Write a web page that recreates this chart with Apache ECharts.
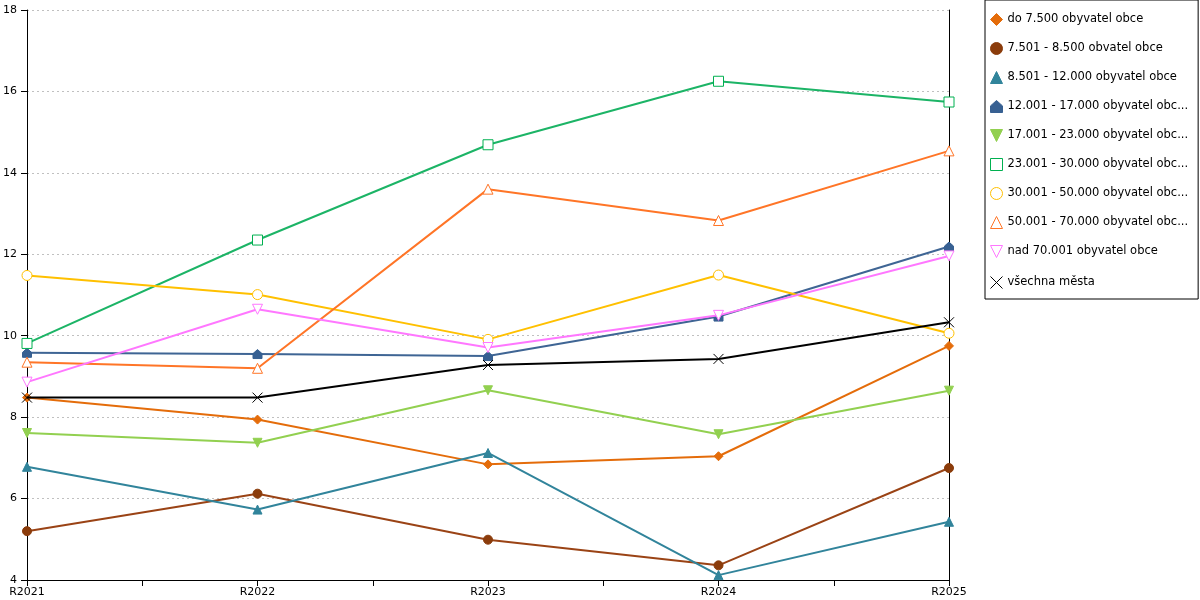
<!DOCTYPE html>
<html>
<head>
<meta charset="utf-8">
<script src="https://cdn.jsdelivr.net/npm/echarts@6/dist/echarts.min.js"></script>
<style>
  html, body { margin: 0; padding: 0; background: #fff; }
  #chart { width: 1200px; height: 600px; }
</style>
</head>
<body>
<div id="chart"></div>
<script>
// roky na ose X
const years = ['R2021', 'R2022', 'R2023', 'R2024', 'R2025'];

const seriesNames = [
  'do 7.500 obyvatel obce',
  '7.501 - 8.500 obvatel obce',
  '8.501 - 12.000 obyvatel obce',
  '12.001 - 17.000 obyvatel obce',
  '17.001 - 23.000 obyvatel obce',
  '23.001 - 30.000 obyvatel obce',
  '30.001 - 50.000 obyvatel obce',
  '50.001 - 70.000 obyvatel obce',
  'nad 70.001 obyvatel obce',
  'všechna města'
];
// texty legendy tak, jak jsou zobrazené (zkrácené)
const legendLabels = [
  'do 7.500 obyvatel obce',
  '7.501 - 8.500 obvatel obce',
  '8.501 - 12.000 obyvatel obce',
  '12.001 - 17.000 obyvatel obc...',
  '17.001 - 23.000 obyvatel obc...',
  '23.001 - 30.000 obyvatel obc...',
  '30.001 - 50.000 obyvatel obc...',
  '50.001 - 70.000 obyvatel obc...',
  'nad 70.001 obyvatel obce',
  'všechna města'
];

const upTo7500    = [8.48, 7.94, 6.84, 7.04, 9.75];
const from7501    = [5.20, 6.12, 4.99, 4.36, 6.75];
const from8501    = [6.78, 5.73, 7.12, 4.12, 5.43];
const from12001   = [9.58, 9.55, 9.50, 10.47, 12.19];
const from17001   = [7.61, 7.37, 8.66, 7.58, 8.65];
const from23001   = [9.81, 12.35, 14.69, 16.25, 15.74];
const from30001   = [11.48, 11.01, 9.91, 11.49, 10.06];
const from50001   = [9.35, 9.20, 13.60, 12.83, 14.54];
const over70001   = [8.86, 10.65, 9.71, 10.50, 11.96];
const allCities   = [8.48, 8.48, 9.28, 9.43, 10.33];

const yTicks = [4, 6, 8, 10, 12, 14, 16, 18];

const allValues = [upTo7500, from7501, from8501, from12001, from17001,
                   from23001, from30001, from50001, over70001, allCities];

const FONT = 'DejaVu Sans';
const DOWN_TRI = 'path://M0,0L10,0L5,10Z';
const HOUSE = 'path://M5,0L10,4.5L10,10L0,10L0,4.5Z';
const CROSS = 'path://M0,0L10,10M10,0L0,10';

// filled markers: fill = border; hollow markers: white fill
const styles = [
  { line: '#e46c0a', symbol: 'diamond', size: 9, fill: '#e46c0a', border: '#e46c0a' },
  { line: '#9a4315', symbol: 'circle', size: 9, fill: '#8b3c0b', border: '#8b3c0b' },
  { line: '#31849b', symbol: 'triangle', size: 9, fill: '#31849b', border: '#31849b' },
  { line: '#3f6594', symbol: HOUSE, size: 9, fill: '#376092', border: '#376092' },
  { line: '#92d050', symbol: DOWN_TRI, size: 9, fill: '#92d050', border: '#92d050' },
  { line: '#1cb466', symbol: 'rect', size: 10, fill: '#ffffff', border: '#00b050' },
  { line: '#ffc000', symbol: 'circle', size: 10, fill: '#ffffff', border: '#ffc000' },
  { line: '#ff7527', symbol: 'triangle', size: 10, fill: '#ffffff', border: '#ff7527' },
  { line: '#ff77ff', symbol: DOWN_TRI, size: 10, fill: '#ffffff', border: '#ff77ff' },
  { line: '#000000', symbol: CROSS, size: 10, fill: 'none', border: '#000000' }
];

const series = allValues.map((vals, i) => ({
  name: seriesNames[i],
  type: 'line',
  xAxisIndex: 0,
  yAxisIndex: 0,
  data: vals.map((v, j) => [j, v]),
  symbol: styles[i].symbol,
  symbolSize: styles[i].size,
  showAllSymbol: true,
  lineStyle: { color: styles[i].line, width: 2 },
  itemStyle: { color: styles[i].fill, borderColor: styles[i].border, borderWidth: 1 },
  emphasis: { disabled: true },
  z: 2 + i
}));

const chart = echarts.init(document.getElementById('chart'));
chart.setOption({
  animation: false,
  backgroundColor: '#fff',
  grid: { left: 27, right: 251, top: 10, bottom: 20, containLabel: false },
  legend: {
    orient: 'vertical',
    left: 985, top: 0,
    padding: [13, 10, 8, 3],
    itemGap: 16,
    itemWidth: 12, itemHeight: 12,
    borderColor: '#000', borderWidth: 1,
    backgroundColor: '#fff',
    selectedMode: false,
    textStyle: { fontFamily: FONT, fontSize: 11.5, color: '#000', width: 190 },
    formatter: name => legendLabels[seriesNames.indexOf(name)],
    data: seriesNames.map((n, i) => ({
      name: n,
      icon: styles[i].symbol,
      itemStyle: { color: styles[i].fill, borderColor: styles[i].border, borderWidth: 1 }
    }))
  },
  xAxis: {
    type: 'value',
    min: 0, max: years.length - 1, interval: 0.5,
    axisLine: { show: true, lineStyle: { color: '#000', width: 1 } },
    axisTick: { show: true, length: 6, lineStyle: { color: '#000' } },
    axisLabel: {
      fontFamily: FONT, fontSize: 11, color: '#000', margin: 7,
      formatter: v => Number.isInteger(v) ? years[v] : ''
    },
    splitLine: { show: false }
  },
  yAxis: [
    {
      type: 'value',
      min: yTicks[0], max: yTicks[yTicks.length - 1], interval: 2,
      axisLine: { show: true, lineStyle: { color: '#000', width: 1 } },
      axisTick: { show: true, length: 6, lineStyle: { color: '#000' } },
      axisLabel: { fontFamily: FONT, fontSize: 11, color: '#000', margin: 10 },
      splitLine: { show: true, lineStyle: { color: '#c0c0c0', type: [2, 3], width: 1 } }
    },
    {
      type: 'value',
      position: 'right',
      min: yTicks[0], max: yTicks[yTicks.length - 1], interval: 2,
      axisLine: { show: true, lineStyle: { color: '#000', width: 1 } },
      axisTick: { show: false },
      axisLabel: { show: false },
      splitLine: { show: false }
    }
  ],
  series: series
});
</script>
</body>
</html>
